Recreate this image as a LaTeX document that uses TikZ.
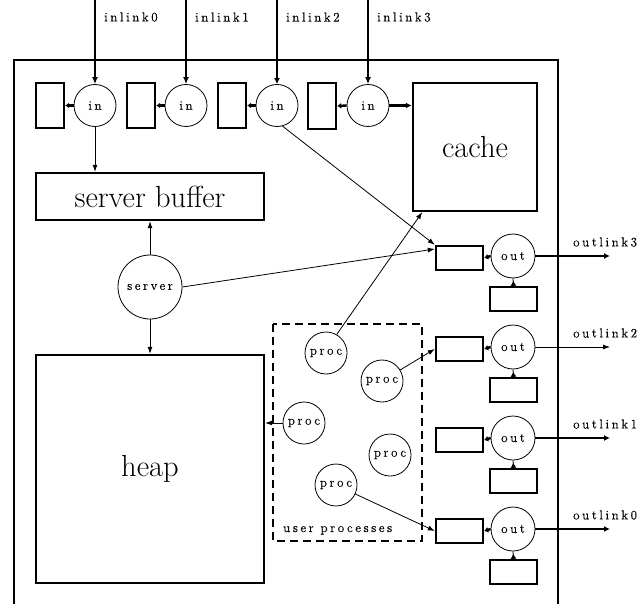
\documentclass[tikz,border=0pt]{standalone}
\usepackage{fontspec}
\usetikzlibrary{arrows.meta,calc}
\newfontfamily\lblfont[LetterSpace=20,FakeBold=0.4]{Latin Modern Roman}
\tikzset{
  box/.style={draw, line width=2.4pt, inner sep=0pt},
  circ/.style={draw, circle, line width=0.8pt, inner sep=0pt, font=\lblfont\fontsize{13}{15}\selectfont},
  big/.style={font=\fontsize{30.5}{36}\selectfont},
  lbl/.style={inner sep=0pt, font=\lblfont\fontsize{13}{15}\selectfont},
  thin/.style={line width=0.8pt, -{Latex[length=7pt,width=5pt]}},
  thickar/.style={line width=2.4pt, -{Latex[length=6pt,width=6pt]}},
  medar/.style={line width=1.8pt, -{Latex[length=7pt,width=6pt]}},
  stub/.style={line width=2.4pt, -{Latex[length=4pt,width=6pt]}},
  upstub/.style={line width=0.8pt, {Latex[reversed,length=5pt,width=6pt]}-},
  dashbox/.style={draw, line width=2pt, dash pattern=on 8pt off 5pt},
}
\begin{document}
\begin{tikzpicture}[x=1pt,y=-1pt]
\useasboundingbox (0,0) rectangle (642,604);
% outer frame
\draw[line width=2.4pt] (14,604) -- (14,60) -- (558,60) -- (558,604);

% input side
\foreach \i/\x in {0/95,1/186,2/277,3/368}{
  \node[circ, minimum size=42pt] (in\i) at (\x,105.5) {in};
  \coordinate (il\i) at (\x,0);
  \node[lbl, anchor=west] at (\x+9,17) {inlink\i};
}
\node[box, minimum width=28pt, minimum height=45pt] (inr0) at (50,105.5) {};
\node[box, minimum width=28pt, minimum height=45pt] (inr1) at (141,105.5) {};
\node[box, minimum width=28pt, minimum height=45pt] (inr2) at (232,105.5) {};
\node[box, minimum width=28pt, minimum height=46pt] (inr3) at (322,106) {};
\draw[medar] (il0) -- (in0.north);
\draw[medar] (il1) -- (in1.north);
\draw[thickar] (il2) -- (in2.north);
\draw[medar] (il3) -- (in3.north);
\foreach \i in {0,1,2,3}{ \draw[stub] (in\i.west) -- (inr\i.east); }

\node[box, big, minimum width=124pt, minimum height=128pt] (cache) at (475,147) {cache};
\draw[thickar] (in3.east) -- (in3.east -| cache.west);

\node[box, big, minimum width=228pt, minimum height=47pt] (sbuf) at (150,196.5) {server buffer};
\node[box, big, minimum width=228pt, minimum height=228pt] (heap) at (150,469) {heap};
\node[circ, minimum size=64pt] (server) at (150,287) {server};
\draw[thin] (in0.south) -- (in0.south |- sbuf.north);
\draw[thin] (server.north) -- (sbuf.south);
\draw[thin] (server.south) -- (heap.north);

% output side
\foreach \k/\y in {3/256,2/347,1/438,0/529}{
  \node[circ, minimum size=44pt] (out\k) at (513,\y) {out};
  \node[box, minimum width=47pt, minimum height=24pt] (ob\k) at (459.5,\y+2) {};
  \node[box, minimum width=47pt, minimum height=24pt] (bb\k) at (513.5,\y+43) {};
  \coordinate (ol\k) at (610,\y);
  \node[lbl, anchor=west] at (573,\y-14) {outlink\k};
  \draw[stub] (out\k.west) -- (ob\k.east);
  \draw[upstub] (bb\k.north) -- (out\k.south);
}
\draw[thickar] (out3.east) -- (ol3);
\draw[thin] (out2.east) -- (ol2);
\draw[thickar] (out1.east) -- (ol1);
\draw[thickar] (out0.east) -- (ol0);

% user processes
\draw[dashbox] (273,324) rectangle (422,541);
\node[lbl, anchor=base west] at (283,532) {user processes};
\node[circ, minimum size=42pt] (p1) at (326,353) {proc};
\node[circ, minimum size=42pt] (p2) at (382,381) {proc};
\node[circ, minimum size=42pt] (p3) at (304,423) {proc};
\node[circ, minimum size=42pt] (p4) at (390,455) {proc};
\node[circ, minimum size=42pt] (p5) at (336,485) {proc};

% cross connectors
\draw[thin] (in2.-75) -- (ob3.north west);
\draw[thin] (server.east) -- (ob3.160);
\draw[thin] (p1.60) -- (cache.231);
\draw[thin] (p2) -- (ob2.west);
\draw[thin] (p3.west) -- (p3.west -| heap.east);
\draw[thin] (p5) -- (ob0.west);
\end{tikzpicture}
\end{document}
